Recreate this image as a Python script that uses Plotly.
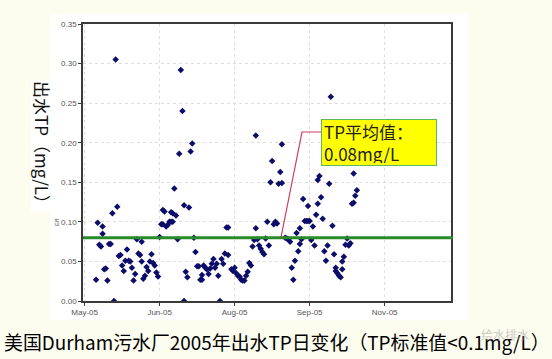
import pandas as pd
import plotly.graph_objects as go

# ---- data ----
start_date = "2005-05-01"
# sampling day, counted in days from 2005-05-01
sample_day = [7, 8, 9, 10, 11, 11, 12, 13, 14, 15, 16, 17, 18, 19, 20, 21, 22, 23, 24, 25,
              26, 27, 28, 29, 30, 31, 32, 33, 34, 35, 35, 36, 37, 38, 39, 40, 41, 42, 43, 44,
              45, 46, 47, 48, 48, 49, 50, 51, 52, 53, 53, 54, 54, 55, 56, 57, 58, 59, 60, 61,
              61, 62, 63, 64, 65, 66, 67, 68, 69, 70, 71, 72, 72, 73, 74, 75, 76, 77, 78, 79,
              80, 81, 82, 83, 84, 85, 86, 87, 88, 88, 90, 91, 92, 93, 94, 95, 96, 97, 98, 99,
              100, 101, 102, 103, 104, 105, 105, 106, 107, 108, 109, 110, 111, 112, 113, 114, 115, 116, 117, 118,
              119, 120, 121, 121, 123, 124, 125, 126, 127, 128, 129, 130, 131, 132, 132, 133, 134, 135, 136, 137,
              137, 138, 139, 140, 141, 142, 143, 143, 144, 145, 146, 147, 148, 149, 150, 151, 152, 153, 154, 154,
              155, 156, 157, 158, 158, 159, 160, 161, 162, 163, 164, 165, 165, 166, 167]
tp_value = [0.027, 0.099, 0.071, 0.069, 0.094, 0.085, 0.040, 0.041, 0.026, 0.072, 0.072, 0.111, 0.000, 0.305, 0.119, 0.057, 0.058, 0.045, 0.038, 0.051,
            0.065, 0.051, 0.050, 0.042, 0.026, 0.034, 0.078, 0.060, 0.058, 0.075, 0.050, 0.028, 0.032, 0.043, 0.038, 0.050, 0.059, 0.048, 0.045, 0.036,
            0.031, 0.081, 0.097, 0.097, 0.115, 0.113, 0.094, 0.096, 0.100, 0.100, 0.112, 0.100, 0.111, 0.142, 0.108, 0.078, 0.186, 0.292, 0.240, 0.121,
            0.000, 0.037, 0.030, 0.118, 0.189, 0.199, 0.080, 0.062, 0.044, 0.044, 0.027, 0.027, 0.033, 0.045, 0.042, 0.040, 0.034, 0.041, 0.047, 0.053,
            0.042, 0.047, 0.032, 0.000, 0.053, 0.047, 0.060, 0.093, 0.093, 0.058, 0.040, 0.038, 0.042, 0.035, 0.032, 0.031, 0.027, 0.026, 0.026, 0.032,
            0.037, 0.048, 0.045, 0.069, 0.077, 0.092, 0.209, 0.078, 0.070, 0.066, 0.062, 0.059, 0.079, 0.100, 0.070, 0.150, 0.177, 0.097, 0.100, 0.098,
            0.148, 0.163, 0.198, 0.149, 0.080, 0.079, 0.078, 0.075, 0.042, 0.027, 0.051, 0.086, 0.063, 0.092, 0.072, 0.078, 0.129, 0.101, 0.101, 0.101,
            0.120, 0.101, 0.077, 0.094, 0.070, 0.109, 0.123, 0.153, 0.158, 0.131, 0.104, 0.063, 0.051, 0.070, 0.148, 0.258, 0.095, 0.059, 0.042, 0.038,
            0.035, 0.032, 0.030, 0.040, 0.050, 0.056, 0.071, 0.079, 0.070, 0.073, 0.123, 0.161, 0.124, 0.133, 0.140]
tp_mean = 0.08
tick_dates = ["2005-05-01", "2005-06-16", "2005-08-01", "2005-09-16", "2005-11-01"]
tick_labels = ["May-05", "Jun-05", "Aug-05", "Sep-05", "Nov-05"]
y_title = "出水TP（mg/L）"
caption = "美国Durham污水厂2005年出水TP日变化（TP标准值<0.1mg/L）"
note_text = "TP平均值：<br>0.08mg/L"

dates = pd.Timestamp(start_date) + pd.to_timedelta(sample_day, unit="D")

W, H = 552, 359
L, R, T, B = 83, 101, 24, 58
PW, PH = W - L - R, H - T - B
BG = "#fdfdef"

def px(x):  # pixel -> paper x
    return (x - L) / PW

def py(y):  # pixel -> paper y
    return (H - B - y) / PH

fig = go.Figure()
fig.add_trace(go.Scatter(
    x=dates, y=tp_value, mode="markers",
    marker=dict(symbol="diamond", size=5, color="#0c0c6a"),
    showlegend=False, hoverinfo="x+y"))

cjk = "Noto Sans CJK SC, Noto Sans, sans-serif"
narrow = "Liberation Sans Narrow, Arial Narrow, Liberation Sans, Arial, sans-serif"

shapes = [
    # white panel behind the chart
    dict(type="rect", xref="paper", yref="paper", x0=px(50), x1=px(468), y0=py(320), y1=py(14),
         fillcolor="white", line=dict(width=0), layer="below"),
    dict(type="rect", xref="paper", yref="paper", x0=px(31), x1=px(56), y0=py(212), y1=py(80),
         fillcolor="white", line=dict(width=0), layer="below"),
    # mean line
    dict(type="line", xref="paper", yref="y", x0=0, x1=1.005, y0=tp_mean, y1=tp_mean,
         line=dict(color="#2a8a2a", width=3)),
    # leader line to note
    dict(type="path", xref="paper", yref="paper",
         path=f"M {px(281)},{py(237.5)} L {px(302)},{py(132)} L {px(321)},{py(132)}",
         line=dict(color="#cc3b5c", width=1.2)),
]

annotations = [
    dict(text=note_text, xref="paper", yref="paper", x=px(379), y=py(142.5),
         xanchor="center", yanchor="middle",
         showarrow=False, align="left", bgcolor="#ffff00", bordercolor="#5cb85c", borderwidth=1,
         borderpad=2, width=110, height=41, font=dict(family=cjk, size=17, color="#222")),
    dict(text=y_title, xref="paper", yref="paper", x=px(43), y=py(146), textangle=90,
         xanchor="center", yanchor="middle",
         showarrow=False, font=dict(family=cjk, size=17, color="#111")),
    dict(text="Eff", xref="paper", yref="paper", x=px(57), y=py(222), textangle=-90,
         xanchor="center", yanchor="middle",
         showarrow=False, font=dict(family=narrow, size=6, color="#555")),
    dict(text=caption, xref="paper", yref="paper", x=px(277), y=py(341),
         xanchor="center", yanchor="middle", showarrow=False,
         font=dict(family=cjk, size=18.9, color="#000")),
    dict(text="给水排水", xref="paper", yref="paper", x=px(505), y=py(334),
         xanchor="center", yanchor="middle", showarrow=False,
         font=dict(family=cjk, size=12, color="rgba(150,150,150,0.5)")),
]

grid = dict(showgrid=True, gridcolor="#dedede", griddash="3px,3px", gridwidth=1,
            showline=True, mirror=True, linecolor="#3a3a3a", linewidth=1.5,
            ticks="outside", ticklen=3, tickcolor="#3a3a3a",
            tickfont=dict(family=narrow, size=8, color="#555"), zeroline=False)

fig.update_layout(
    width=W, height=H, margin=dict(l=L, r=R, t=T, b=B, pad=0),
    paper_bgcolor=BG, plot_bgcolor="white",
    shapes=shapes, annotations=annotations, showlegend=False,
    xaxis=dict(type="date", range=["2005-04-30", "2005-12-11 17:00"],
               tickvals=tick_dates, ticktext=tick_labels, **grid),
    yaxis=dict(range=[0, 0.35], dtick=0.05, tick0=0, tickformat=".2f", **grid),
)

fig.write_html(
    "out.html",
    config={"displayModeBar": False},
    post_script=f"document.body.style.margin='0';document.body.style.background='{BG}';"
                "document.body.style.overflow='hidden';",
)
